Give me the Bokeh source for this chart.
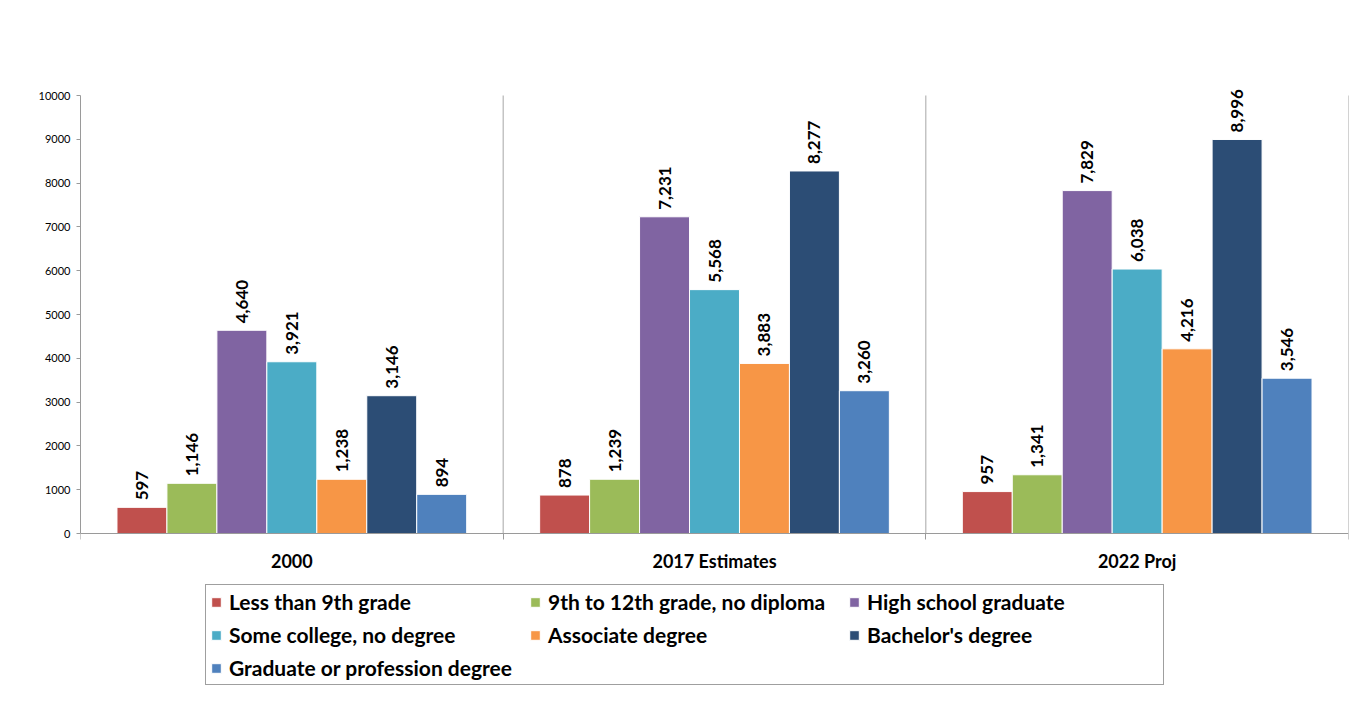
from bokeh.plotting import figure
from bokeh.models import (ColumnDataSource, Range1d, FixedTicker, Legend, LegendItem)
from bokeh.embed import file_html
from bokeh.resources import INLINE
from bokeh.core.properties import value
import math

# ---- data ----
years = ["2000", "2017 Estimates", "2022 Proj"]
series = ["Less than 9th grade", "9th to 12th grade, no diploma", "High school graduate",
          "Some college, no degree", "Associate degree", "Bachelor's degree",
          "Graduate or profession degree"]
less_9th = [597, 878, 957]
grade_9_12 = [1146, 1239, 1341]
high_school = [4640, 7231, 7829]
some_college = [3921, 5568, 6038]
associate = [1238, 3883, 4216]
bachelor = [3146, 8277, 8996]
graduate = [894, 3260, 3546]
colors = ["#C0504D", "#9BBB59", "#8064A2", "#4BACC6", "#F79646", "#2C4D75", "#4F81BD"]
y_ticks = list(range(0, 10001, 1000))

values = [less_9th, grade_9_12, high_school, some_college, associate, bachelor, graduate]

FONT = "Lato"

# frame fills the figure height; 10000 sits at y=95 and 0 at y=533 (43.8 px per 1000)
p = figure(width=1351, height=686, output_backend="svg", toolbar_location=None,
           x_range=Range1d(0, len(years)), y_range=Range1d(-3493, 12169),
           min_border_left=80, min_border_right=3, min_border_top=0, min_border_bottom=0)
p.outline_line_color = None
p.background_fill_color = "white"
p.border_fill_color = "white"

# category separators (vertical gridlines from 0 to top of value axis)
bounds_x = list(range(1, len(years) + 1))
p.segment(x0=bounds_x, x1=bounds_x, y0=[y_ticks[0]] * len(bounds_x),
          y1=[y_ticks[-1]] * len(bounds_x), line_color="#a6a6a6", line_width=1)

bw = 0.1182
renderers = []
for j, (name, vals, col) in enumerate(zip(series, values, colors)):
    xs = [i + 0.5 + (j - 3) * bw for i in range(len(years))]
    src = ColumnDataSource(dict(x=xs, top=vals, lab=[f"{v:,}" for v in vals]))
    r = p.vbar(x="x", top="top", bottom=0, width=bw, source=src,
               fill_color=col, line_color="white", line_width=1)
    renderers.append((name, r))
    p.text(x="x", y="top", text="lab", source=src, angle=math.pi / 2,
           text_align="left", text_baseline="middle", y_offset=-7,
           text_font=value(FONT), text_font_style="bold", text_font_size="17px",
           text_color="black")

# x axis (sits on y = 0 inside the frame)
xt = FixedTicker(ticks=[i + 0.5 for i in range(len(years))], minor_ticks=[0] + bounds_x)
p.xaxis.fixed_location = 0
p.xaxis.ticker = xt
p.xaxis.major_label_overrides = {i + 0.5: y for i, y in enumerate(years)}
p.xaxis.major_tick_line_color = None
p.xaxis.major_tick_out = 0
p.xaxis.major_tick_in = 0
p.xaxis.minor_tick_line_color = "#9a9a9a"
p.xaxis.minor_tick_out = 6
p.xaxis.minor_tick_in = 0
p.xaxis.axis_line_color = "#9a9a9a"
p.xaxis.major_label_text_font = FONT
p.xaxis.major_label_text_font_style = "bold"
p.xaxis.major_label_text_font_size = "18px"
p.xaxis.major_label_text_color = "black"
p.xaxis.major_label_standoff = 10

# y axis
p.yaxis.ticker = FixedTicker(ticks=y_ticks)
p.yaxis.bounds = (y_ticks[0], y_ticks[-1])
p.yaxis.minor_tick_line_color = None
p.yaxis.major_tick_out = 4
p.yaxis.major_tick_in = 0
p.yaxis.major_tick_line_color = "#9a9a9a"
p.yaxis.axis_line_color = "#9a9a9a"
p.yaxis.major_label_text_font = FONT
p.yaxis.major_label_text_font_size = "11px"
p.yaxis.major_label_text_color = "black"
p.yaxis.major_label_standoff = 6

# grids
p.ygrid.grid_line_color = None
p.xgrid.grid_line_color = None

legend = Legend(items=[LegendItem(label=n, renderers=[r]) for n, r in renderers],
                orientation="horizontal", ncols=3, location=(125, 1))
legend.label_text_font = FONT
legend.label_text_font_style = "bold"
legend.label_text_font_size = "21px"
legend.label_text_color = "black"
legend.glyph_width = 12
legend.glyph_height = 12
legend.label_standoff = 7
legend.label_width = 292
legend.label_height = 21
legend.spacing = 8
legend.padding = 4
legend.margin = 0
legend.border_line_color = "#404040"
legend.border_line_width = 1
legend.background_fill_alpha = 1
p.add_layout(legend, "center")

open("out.html", "w").write(file_html(p, INLINE))
